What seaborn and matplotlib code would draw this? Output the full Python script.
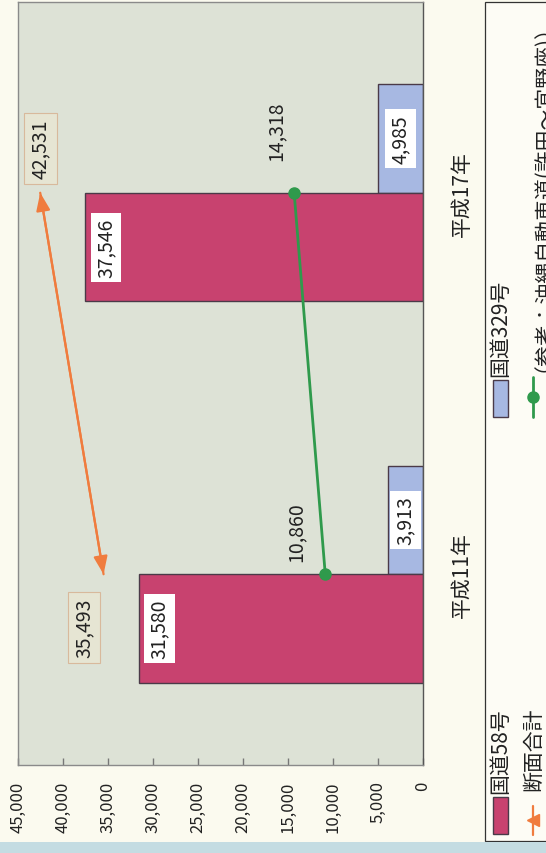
import matplotlib
matplotlib.use("Agg")
import matplotlib.pyplot as plt
import seaborn as sns
import pandas as pd
from matplotlib.patches import Rectangle
from matplotlib.lines import Line2D

# ---------------- data ----------------
categories = ["平成11年", "平成17年"]
route58 = [31580, 37546]
route329 = [3913, 4985]
total = [35493, 42531]
expressway = [10860, 14318]
series_names = ["国道58号", "国道329号", "断面合計", "（参考：沖縄自動車道(許田～宜野座)）"]
value_ticks = [0, 5000, 10000, 15000, 20000, 25000, 30000, 35000, 40000, 45000]

# ---------------- style ----------------
PINK = "#c8426f"
BLUE = "#a7b8e2"
ORANGE = "#f07c3e"
GREEN = "#2f9a4c"
PLOT_BG = "#dde2d6"
FIG_BG = "#fbfaef"

sns.set_theme(style="white")
plt.rcParams["font.family"] = ["Noto Sans CJK JP", "DejaVu Sans"]

W, H = 546, 854
fig = plt.figure(figsize=(W / 100, H / 100), dpi=100, facecolor=FIG_BG)
ax = fig.add_axes([18 / W, 88 / H, 405 / W, 763 / H])
ax.set_facecolor(PLOT_BG)

def px(x, y):
    """image-pixel coords (origin top-left) -> figure fraction"""
    return x / W, 1 - y / H

# image is the chart turned a quarter turn: categories run top (17) to bottom (11)
order = [categories[1], categories[0]]
df = pd.DataFrame({
    "year": categories * 2,
    "road": [series_names[0]] * 2 + [series_names[1]] * 2,
    "value": route58 + route329,
})
sns.barplot(data=df, x="value", y="year", hue="road", order=order,
            hue_order=[series_names[1], series_names[0]],
            palette=[BLUE, PINK], width=0.57, orient="h", ax=ax,
            edgecolor="#4a3a48", linewidth=1.0, saturation=1, legend=False,
            errorbar=None)

pos = {c: order.index(c) for c in categories}
ypos = [pos[c] for c in categories]

# bar labels
for ci, cont in enumerate(ax.containers):
    is_blue = ci == 0
    for bar in cont:
        v = bar.get_width()
        yc = bar.get_y() + bar.get_height() / 2
        if is_blue:
            ax.annotate(f"{int(round(v)):,}", xy=(v / 2, yc), ha="center", va="center",
                        rotation=90, fontsize=14, color="#222",
                        bbox=dict(boxstyle="square,pad=0.25", fc="white", ec="none"))
        else:
            ax.annotate(f"{int(round(v)):,}", xy=(v, yc), xytext=(15, 0),
                        textcoords="offset points", ha="center", va="center",
                        rotation=90, fontsize=14, color="#222",
                        bbox=dict(boxstyle="square,pad=0.25", fc="white", ec="none"))

# total line with arrow-like triangle ends
ax.plot(total, ypos, color=ORANGE, lw=1.6, zorder=4)
ax.annotate("", xy=(total[1], ypos[1]), xytext=(total[0], ypos[0]),
            arrowprops=dict(arrowstyle="<|-|>,head_length=0.9,head_width=0.35",
                            color=ORANGE, lw=1.6, shrinkA=0, shrinkB=0,
                            mutation_scale=12), zorder=4)
total_offsets = [(-14, -38), (0, 32)]
for v, y, off in zip(total, ypos, total_offsets):
    ax.annotate(f"{v:,}", xy=(v, y), xytext=off, textcoords="offset points",
                ha="center", va="center", rotation=90, fontsize=14, color="#222",
                bbox=dict(boxstyle="square,pad=0.3", fc="#e6e5d3", ec="#d8b99c", lw=0.8),
                zorder=6)

# expressway line
ax.plot(expressway, ypos, color=GREEN, lw=2, marker="o", ms=8, zorder=5)
exp_offsets = [(-21, 31), (-13, 45)]
for v, y, off in zip(expressway, ypos, exp_offsets):
    ax.annotate(f"{v:,}", xy=(v, y), xytext=off, textcoords="offset points",
                ha="center", va="center", rotation=90, fontsize=14, color="#222",
                zorder=6)

# axes
ax.set_xlim(45000, 0)
ax.set_ylim(1.5, -0.5)
ax.set_xticks(value_ticks)
ax.set_xticklabels([f"{v:,}" for v in value_ticks], rotation=90, fontsize=12, color="#222")
ax.tick_params(axis="x", direction="in", length=5, width=1, color="#777", pad=11, bottom=True)
ax.yaxis.tick_right()
ax.set_yticks(ypos)
ax.set_yticklabels(categories, rotation=90, fontsize=15, color="#222", va="center")
ax.tick_params(axis="y", length=0, pad=20)
ax.set_xlabel("")
ax.set_ylabel("")
for s in ax.spines.values():
    s.set_color("#8a8a8a")
    s.set_linewidth(1.0)
    s.set_visible(True)
ax.spines["right"].set_color("#555")

# ---------------- legend (turned with the chart) ----------------
def frect(x0, y0, x1, y1, **kw):
    fx0, fy1 = px(x0, y0)
    fx1, fy0 = px(x1, y1)
    r = Rectangle((fx0, fy0), fx1 - fx0, fy1 - fy0, transform=fig.transFigure, **kw)
    fig.add_artist(r)

frect(485, 3, 560, 842, fc="#fdfcf5", ec="#333", lw=0.9)
frect(0, 843, W, H, fc="#c4dce2", ec="none")

# handles
frect(493, 798, 508, 835, fc=PINK, ec="#4a3a48", lw=1)
frect(493, 381, 508, 418, fc=BLUE, ec="#4a3a48", lw=1)
x, y0 = px(533, 807)
_, y1 = px(533, 836)
fig.add_artist(Line2D([x, x], [y0, y1], color=ORANGE, lw=1.6, transform=fig.transFigure))
fig.add_artist(Line2D([x], [px(533, 821)[1]], color=ORANGE, marker="<", ms=8, lw=0,
                      transform=fig.transFigure))
x, y0 = px(533, 378)
_, y1 = px(533, 418)
fig.add_artist(Line2D([x, x], [y0, y1], color=GREEN, lw=2, transform=fig.transFigure))
fig.add_artist(Line2D([x], [px(533, 398)[1]], color=GREEN, marker="o", ms=8, lw=0,
                      transform=fig.transFigure))

legend_pos = [(500, 794), (500, 377), (533, 791), (533, 372)]
for name, (lx, ly) in zip(series_names, legend_pos):
    fx, fy = px(lx, ly)
    fig.text(fx, fy, name, rotation=90, ha="center", va="bottom", fontsize=15, color="#222")

fig.savefig("out.png", dpi=100, facecolor=fig.get_facecolor())
